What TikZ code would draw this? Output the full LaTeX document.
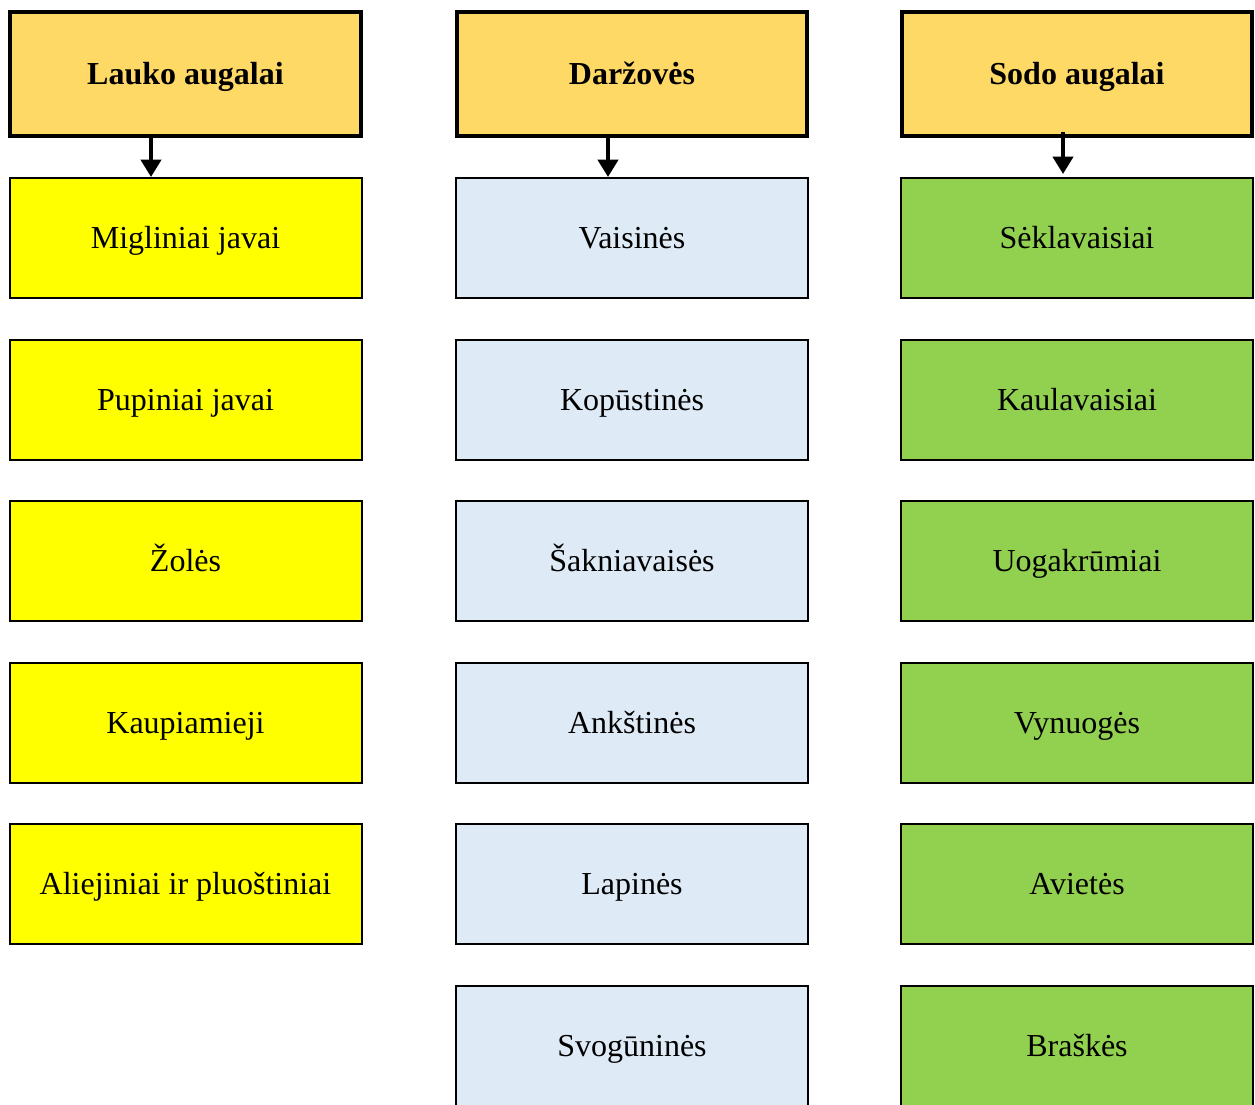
\documentclass[tikz,border=0pt]{standalone}
\usepackage{fontspec}
\setmainfont{Liberation Serif}
\usetikzlibrary{arrows.meta,calc}
\definecolor{headOrange}{HTML}{FFD966}
\definecolor{fieldYellow}{HTML}{FFFF00}
\definecolor{vegBlue}{HTML}{DEEAF6}
\definecolor{gardenGreen}{HTML}{92D050}

\begin{document}
\begin{tikzpicture}
                [x=0.75pt, y=-0.75pt,
        head/.style={rectangle,draw,line width=3pt,fill=headOrange,minimum width=263pt,minimum height=93pt,inner sep=0pt,text height=17pt,text depth=2pt,font=\fontsize{24}{28}\selectfont\bfseries},
        kind/.style={rectangle,draw,line width=1.5pt,minimum width=264pt,minimum height=90pt,inner sep=0pt,text height=17pt,text depth=2pt,font=\fontsize{24}{28}\selectfont},
        arr/.style={line width=3pt,-{Triangle[width=15pt,length=13pt]}}]
                \clip (0,0) rectangle (1255,1104);
                \node[head] (lauko) at (185.5,74) {Lauko augalai};
                \node[head] (darz) at (632,74) {Daržovės};
                \node[head] (sodo) at (1077,74) {Sodo augalai};
                
                \node[kind, fill=fieldYellow] (migl) at (185.5,238) {Migliniai javai};
                \node[kind, fill=fieldYellow] (pupin) at (185.5,400) {Pupiniai javai};
                \node[kind, fill=fieldYellow] (zoles) at (185.5,561) {Žolės};
                \node[kind, fill=fieldYellow] (kaup) at (185.5,723) {Kaupiamieji};
                \node[kind, fill=fieldYellow] (aliej) at (185.5,884) {Aliejiniai ir pluoštiniai};
                
                \node[kind, fill=vegBlue] (vaisin) at (632,238) {Vaisinės};
                \node[kind, fill=vegBlue] (kopust) at (632,400) {Kopūstinės};
                \node[kind, fill=vegBlue] (saknia) at (632,561) {Šakniavaisės};
                \node[kind, fill=vegBlue] (ankst) at (632,723) {Ankštinės};
                \node[kind, fill=vegBlue] (lapin) at (632,884) {Lapinės};
                \node[kind, fill=vegBlue] (svogun) at (632,1046) {Svogūninės};
                
                \node[kind, fill=gardenGreen] (seklav) at (1077,238) {Sėklavaisiai};
                \node[kind, fill=gardenGreen] (kaulav) at (1077,400) {Kaulavaisiai};
                \node[kind, fill=gardenGreen] (uogak) at (1077,561) {Uogakrūmiai};
                \node[kind, fill=gardenGreen] (vynuog) at (1077,723) {Vynuogės};
                \node[kind, fill=gardenGreen] (aviet) at (1077,884) {Avietės};
                \node[kind, fill=gardenGreen] (brask) at (1077,1046) {Braškės};
                
                \draw[arr] ($(lauko.south)+(-34.5,0)$) -- ($(migl.north)+(-34.5,0)$);
                \draw[arr] ($(darz.south)+(-24,0)$) -- ($(vaisin.north)+(-24,0)$);
                \draw[arr] ($(sodo.south)+(-14,-6)$) -- ($(seklav.north)+(-14,-3)$);
            \end{tikzpicture}
\end{document}
